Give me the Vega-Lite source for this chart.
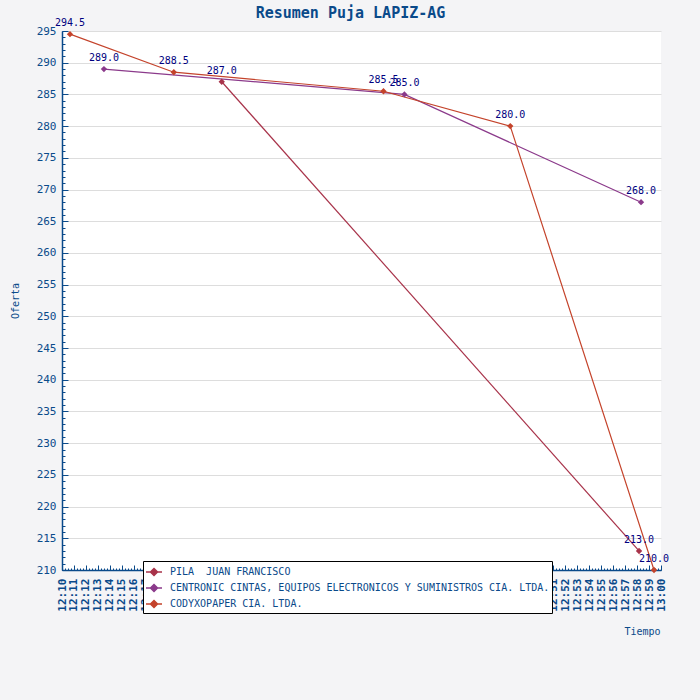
{
  "$schema": "https://vega.github.io/schema/vega-lite/v6.json",
  "description": "Resumen Puja LAPIZ-AG, ofertas por tiempo",
  "width": 599,
  "height": 539,
  "autosize": {"type": "none"},
  "padding": {"left": 62, "top": 31, "right": 39, "bottom": 130},
  "background": "#F4F4F6",
  "title": {
    "text": "Resumen Puja LAPIZ-AG",
    "font": "DejaVu Sans Mono",
    "fontSize": 15,
    "fontWeight": "bold",
    "color": "#0A4A8A",
    "anchor": "middle",
    "dx": -11,
    "dy": 4,
    "offset": 1
  },
  "data": {
    "values": [
      {"bidder": "PILA\u00a0 JUAN FRANCISCO", "time": "2024-01-01T12:23:20Z", "offer": 287.0},
      {"bidder": "PILA\u00a0 JUAN FRANCISCO", "time": "2024-01-01T12:58:10Z", "offer": 213.0},
      {"bidder": "CENTRONIC CINTAS, EQUIPOS ELECTRONICOS Y SUMINISTROS CIA. LTDA.", "time": "2024-01-01T12:13:30Z", "offer": 289.0},
      {"bidder": "CENTRONIC CINTAS, EQUIPOS ELECTRONICOS Y SUMINISTROS CIA. LTDA.", "time": "2024-01-01T12:38:35Z", "offer": 285.0},
      {"bidder": "CENTRONIC CINTAS, EQUIPOS ELECTRONICOS Y SUMINISTROS CIA. LTDA.", "time": "2024-01-01T12:58:20Z", "offer": 268.0},
      {"bidder": "CODYXOPAPER CIA. LTDA.", "time": "2024-01-01T12:10:40Z", "offer": 294.5},
      {"bidder": "CODYXOPAPER CIA. LTDA.", "time": "2024-01-01T12:19:20Z", "offer": 288.5},
      {"bidder": "CODYXOPAPER CIA. LTDA.", "time": "2024-01-01T12:36:50Z", "offer": 285.5},
      {"bidder": "CODYXOPAPER CIA. LTDA.", "time": "2024-01-01T12:47:25Z", "offer": 280.0},
      {"bidder": "CODYXOPAPER CIA. LTDA.", "time": "2024-01-01T12:59:25Z", "offer": 210.0}
    ]
  },
  "encoding": {
    "x": {
      "field": "time",
      "type": "temporal",
      "scale": {
        "type": "utc",
        "domain": [
          {"year": 2024, "month": 1, "date": 1, "hours": 12, "minutes": 10, "utc": true},
          {"year": 2024, "month": 1, "date": 1, "hours": 13, "minutes": 0, "utc": true}
        ]
      }
    },
    "y": {
      "field": "offer",
      "type": "quantitative",
      "scale": {"domain": [210, 295], "zero": false, "nice": false}
    },
    "color": {
      "field": "bidder",
      "type": "nominal",
      "scale": {
        "domain": ["PILA\u00a0 JUAN FRANCISCO", "CENTRONIC CINTAS, EQUIPOS ELECTRONICOS Y SUMINISTROS CIA. LTDA.", "CODYXOPAPER CIA. LTDA."],
        "range": ["#A8334A", "#8B3A8B", "#C4432B"]
      },
      "legend": {
        "title": null,
        "orient": "none",
        "legendX": 81,
        "legendY": 530,
        "direction": "vertical",
        "fillColor": "white",
        "strokeColor": "black",
        "padding": 2,
        "rowPadding": 0,
        "symbolType": "M-1,0L1,0M0,-0.44L0.44,0L0,0.44L-0.44,0Z",
        "symbolSize": 256,
        "symbolStrokeWidth": 1.5,
        "labelFont": "DejaVu Sans Mono",
        "labelFontSize": 10,
        "labelColor": "#0A4A8A",
        "labelLimit": 500,
        "labelOffset": 7
      }
    }
  },
  "layer": [
    {
      "mark": {"type": "line", "strokeWidth": 1.2},
      "encoding": {
        "x": {
          "field": "time",
          "type": "temporal",
          "title": "Tiempo",
          "axis": {
            "orient": "bottom",
            "format": "%H:%M",
            "tickCount": 50,
            "labelAngle": -90,
            "labelPadding": 8,
            "labelFontSize": 11,
            "labelFontWeight": "bold",
            "labelOverlap": false,
            "ticks": false,
            "grid": false,
            "titleAnchor": "end",
            "titleAlign": "right",
            "titleX": 598,
            "titleY": 61,
            "titleBaseline": "middle"
          }
        },
        "y": {
          "field": "offer",
          "type": "quantitative",
          "title": "Oferta",
          "axis": {
            "orient": "left",
            "tickCount": 17,
            "labelFontSize": 11,
            "labelPadding": 6,
            "ticks": false,
            "grid": true,
            "titlePadding": 16
          }
        }
      }
    },
    {
      "mark": {"type": "point", "shape": "diamond", "filled": true, "size": 40, "opacity": 1},
      "encoding": {
        "x": {
          "field": "time",
          "type": "temporal",
          "axis": {
            "orient": "bottom",
            "title": null,
            "labels": false,
            "domain": false,
            "grid": false,
            "tickCount": 50,
            "tickSize": -5
          }
        },
        "y": {
          "field": "offer",
          "type": "quantitative",
          "axis": {
            "orient": "left",
            "title": null,
            "labels": false,
            "domain": false,
            "grid": false,
            "tickCount": 17,
            "tickSize": -6
          }
        }
      }
    },
    {
      "mark": {"type": "text", "font": "DejaVu Sans Mono", "fontSize": 10, "dy": -11, "align": "center", "color": "#000080"},
      "encoding": {
        "text": {"field": "offer", "type": "quantitative", "format": ".1f"},
        "color": {"value": "#000080"},
        "x": {
          "field": "time",
          "type": "temporal",
          "axis": {
            "orient": "bottom",
            "title": null,
            "labels": false,
            "domain": false,
            "grid": false,
            "tickCount": 200,
            "tickSize": -2
          }
        },
        "y": {
          "field": "offer",
          "type": "quantitative",
          "axis": {
            "orient": "left",
            "title": null,
            "labels": false,
            "domain": false,
            "grid": false,
            "tickCount": 85,
            "tickSize": -3
          }
        }
      }
    }
  ],
  "resolve": {"axis": {"x": "independent", "y": "independent"}},
  "config": {
    "view": {"stroke": null, "fill": "white"},
    "axis": {
      "domainColor": "#0A4A8A",
      "domainWidth": 1.5,
      "tickColor": "#0A4A8A",
      "tickWidth": 1,
      "labelColor": "#0A4A8A",
      "labelFont": "DejaVu Sans Mono",
      "titleColor": "#0A4A8A",
      "titleFont": "DejaVu Sans Mono",
      "titleFontSize": 10,
      "titleFontWeight": "normal",
      "gridColor": "#DDDDDD",
      "gridWidth": 1
    }
  }
}
